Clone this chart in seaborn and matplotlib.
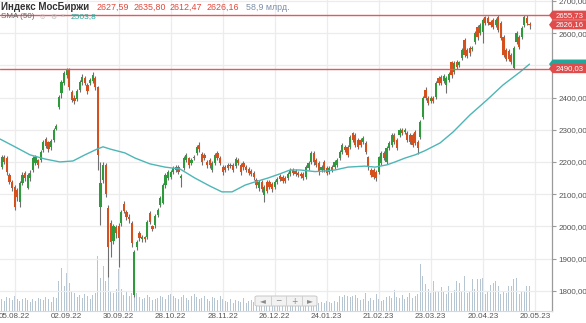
import numpy as np
import pandas as pd
import matplotlib
matplotlib.use("Agg")
import matplotlib.pyplot as plt
import seaborn as sns
from matplotlib.patches import Polygon, FancyBboxPatch, Rectangle
from matplotlib.transforms import IdentityTransform

sns.set_theme(style="white")
plt.rcParams["font.family"] = ["Liberation Sans", "DejaVu Sans"]

# ---------------- data ----------------
open_ = [2184, 2215, 2212, 2160, 2138, 2122, 2113, 2076, 2135, 2165, 2120, 2150, 2175, 2197, 2205, 2206, 2237, 2271, 2262, 2245,
         2268, 2303, 2371, 2414, 2445, 2470, 2490, 2417, 2400, 2395, 2424, 2449, 2460, 2440, 2445, 2450, 2460, 2433, 2060, 2144,
         2190, 2057, 2010, 1955, 1998, 2000, 2010, 2070, 2045, 2030, 2010, 1787, 1936, 1979, 1960, 1966, 1967, 2042, 2000, 2003,
         2036, 2067, 2073, 2128, 2150, 2153, 2169, 2184, 2184, 2150, 2181, 2206, 2212, 2197, 2216, 2228, 2253, 2225, 2222, 2200,
         2206, 2175, 2197, 2228, 2212, 2184, 2184, 2190, 2187, 2190, 2187, 2206, 2190, 2197, 2184, 2178, 2172, 2166, 2144, 2119,
         2138, 2097, 2138, 2138, 2131, 2122, 2138, 2157, 2153, 2150, 2150, 2163, 2175, 2172, 2166, 2163, 2162, 2154, 2181, 2200,
         2228, 2206, 2197, 2175, 2200, 2181, 2169, 2184, 2184, 2191, 2212, 2231, 2247, 2247, 2247, 2290, 2284, 2268, 2268, 2262,
         2259, 2215, 2175, 2175, 2169, 2169, 2197, 2228, 2200, 2243, 2253, 2284, 2268, 2284, 2300, 2293, 2290, 2284, 2284, 2293,
         2262, 2278, 2340, 2424, 2399, 2390, 2399, 2402, 2461, 2464, 2452, 2440, 2455, 2510, 2480, 2510, 2500, 2523, 2579, 2548,
         2554, 2550, 2573, 2619, 2600, 2603, 2650, 2647, 2635, 2641, 2625, 2650, 2631, 2588, 2548, 2545, 2532, 2492, 2573, 2588,
         2588, 2625, 2647, 2627.59]
close = [2215, 2200, 2169, 2138, 2119, 2060, 2091, 2135, 2160, 2150, 2160, 2166, 2212, 2215, 2190, 2231, 2262, 2250, 2240, 2265,
         2300, 2312, 2402, 2449, 2477, 2490, 2433, 2393, 2390, 2420, 2449, 2465, 2445, 2420, 2455, 2470, 2433, 2222, 2135, 2190,
         2100, 1936, 1950, 2000, 1980, 1965, 2045, 2048, 2030, 2022, 1948, 1920, 1951, 1964, 1966, 1960, 2014, 2014, 1993, 2032,
         2051, 2088, 2128, 2160, 2170, 2169, 2181, 2175, 2170, 2157, 2212, 2222, 2190, 2206, 2212, 2247, 2240, 2200, 2212, 2190,
         2190, 2197, 2222, 2212, 2197, 2169, 2175, 2181, 2190, 2175, 2209, 2197, 2169, 2184, 2175, 2166, 2163, 2153, 2129, 2138,
         2116, 2122, 2110, 2122, 2116, 2138, 2147, 2147, 2141, 2141, 2163, 2175, 2166, 2163, 2160, 2157, 2150, 2185, 2197, 2228,
         2200, 2191, 2170, 2184, 2175, 2166, 2181, 2175, 2200, 2206, 2231, 2253, 2237, 2222, 2278, 2268, 2253, 2247, 2253, 2274,
         2231, 2184, 2160, 2153, 2150, 2215, 2228, 2212, 2243, 2259, 2284, 2262, 2243, 2300, 2290, 2300, 2268, 2262, 2253, 2259,
         2243, 2325, 2399, 2399, 2383, 2399, 2390, 2445, 2445, 2445, 2467, 2460, 2473, 2470, 2507, 2495, 2510, 2548, 2532, 2530,
         2538, 2554, 2600, 2588, 2625, 2641, 2631, 2631, 2625, 2619, 2641, 2610, 2585, 2532, 2520, 2520, 2510, 2554, 2600, 2557,
         2616, 2650, 2631, 2626.16]
high = [2222, 2222, 2218, 2166, 2145, 2128, 2118, 2140, 2168, 2172, 2165, 2175, 2218, 2222, 2210, 2237, 2268, 2278, 2266, 2270,
        2306, 2318, 2408, 2455, 2482, 2492, 2493, 2422, 2408, 2426, 2455, 2472, 2466, 2446, 2462, 2480, 2466, 2436, 2200, 2200,
        2197, 2065, 2020, 2008, 2005, 2010, 2050, 2080, 2052, 2038, 2015, 1925, 1958, 1985, 1972, 1970, 2020, 2048, 2005, 2038,
        2058, 2094, 2134, 2166, 2176, 2175, 2186, 2190, 2190, 2162, 2218, 2228, 2216, 2212, 2222, 2253, 2262, 2230, 2228, 2206,
        2212, 2203, 2228, 2234, 2218, 2190, 2190, 2196, 2196, 2196, 2215, 2212, 2196, 2203, 2190, 2184, 2178, 2172, 2150, 2144,
        2144, 2128, 2144, 2144, 2137, 2144, 2153, 2162, 2158, 2156, 2168, 2181, 2180, 2178, 2172, 2168, 2168, 2190, 2203, 2234,
        2234, 2212, 2203, 2190, 2206, 2187, 2187, 2190, 2206, 2212, 2237, 2260, 2253, 2253, 2284, 2294, 2290, 2274, 2274, 2280,
        2265, 2220, 2181, 2181, 2175, 2220, 2234, 2234, 2249, 2265, 2290, 2290, 2274, 2306, 2306, 2306, 2296, 2290, 2290, 2298,
        2268, 2330, 2405, 2433, 2405, 2405, 2405, 2450, 2467, 2470, 2473, 2466, 2479, 2515, 2512, 2516, 2515, 2553, 2585, 2554,
        2560, 2560, 2606, 2625, 2631, 2647, 2652, 2653, 2641, 2647, 2647, 2655, 2637, 2594, 2554, 2551, 2538, 2560, 2606, 2594,
        2622, 2655, 2655.73, 2635.80]
low = [2178, 2195, 2160, 2130, 2110, 2052, 2080, 2060, 2128, 2140, 2115, 2140, 2170, 2190, 2180, 2200, 2230, 2244, 2232, 2238,
       2262, 2298, 2365, 2400, 2438, 2462, 2425, 2385, 2380, 2388, 2418, 2440, 2438, 2410, 2438, 2445, 2425, 2175, 2004, 2135,
       2090, 1843, 1905, 1945, 1965, 1874, 2000, 2040, 2020, 2010, 1935, 1780, 1925, 1955, 1950, 1950, 1960, 2008, 1985, 1995,
       2028, 2060, 2068, 2120, 2144, 2148, 2162, 2168, 2162, 2122, 2175, 2200, 2182, 2190, 2205, 2222, 2232, 2192, 2205, 2182,
       2182, 2168, 2190, 2205, 2190, 2160, 2168, 2174, 2180, 2168, 2180, 2190, 2160, 2176, 2168, 2158, 2155, 2145, 2120, 2110,
       2108, 2075, 2102, 2115, 2108, 2115, 2132, 2140, 2134, 2134, 2144, 2156, 2160, 2156, 2153, 2150, 2144, 2148, 2175, 2194,
       2192, 2184, 2160, 2168, 2168, 2158, 2162, 2168, 2178, 2185, 2206, 2225, 2230, 2215, 2240, 2262, 2246, 2240, 2246, 2256,
       2224, 2176, 2152, 2146, 2140, 2162, 2190, 2205, 2195, 2236, 2246, 2255, 2236, 2278, 2284, 2287, 2262, 2255, 2246, 2252,
       2225, 2272, 2334, 2392, 2376, 2384, 2384, 2396, 2438, 2438, 2446, 2415, 2448, 2462, 2474, 2488, 2494, 2517, 2525, 2522,
       2530, 2544, 2567, 2580, 2594, 2570, 2624, 2624, 2618, 2612, 2618, 2603, 2578, 2525, 2513, 2513, 2503, 2490.03, 2567, 2550,
       2582, 2619, 2624, 2612.47]
volume = [28, 24, 33, 31, 26, 35, 28, 24, 28, 31, 26, 21, 28, 24, 31, 28, 26, 33, 28, 21,
          33, 31, 71, 101, 59, 90, 66, 47, 42, 33, 38, 31, 40, 35, 28, 38, 42, 130, 78, 106,
          71, 85, 47, 42, 52, 99, 52, 38, 47, 35, 42, 66, 42, 33, 28, 31, 38, 33, 26, 28,
          31, 35, 33, 28, 38, 40, 35, 31, 28, 33, 38, 31, 26, 35, 40, 33, 28, 31, 35, 28,
          24, 33, 31, 26, 35, 28, 24, 21, 28, 19, 26, 24, 21, 31, 19, 24, 26, 21, 28, 19,
          24, 21, 26, 31, 24, 19, 21, 26, 24, 28, 21, 19, 24, 26, 21, 28, 24, 19, 21, 26,
          24, 21, 19, 21, 19, 24, 21, 19, 24, 21, 35, 33, 38, 35, 33, 35, 38, 31, 26, 28,
          42, 24, 31, 26, 40, 28, 24, 26, 33, 35, 31, 50, 33, 31, 38, 28, 33, 42, 31, 35,
          40, 111, 83, 64, 52, 42, 71, 47, 45, 57, 47, 40, 59, 42, 50, 71, 66, 47, 83, 42,
          47, 76, 52, 76, 76, 78, 40, 45, 61, 66, 71, 59, 40, 47, 42, 59, 59, 76, 78, 40,
          47, 45, 59, 58.9]
sma_pos = [-0.6, 5.1, 10.9, 16.7, 22.4, 27.4, 32.0, 36.7, 39.0, 41.7, 47.4, 51.3, 57.0, 62.8, 68.6, 74.3, 80.1,
           84.7, 88.6, 93.6, 97.4, 102.4, 107.0, 110.9, 114.7, 120.5, 124.3, 128.2, 133.2, 139.7, 143.6, 148.2,
           151.3, 155.1, 159.0, 162.8, 168.6, 173.6, 180.1, 186.7, 192.8, 199.3, 203.0]
sma_val = [2271, 2247, 2222, 2209, 2200, 2203, 2222, 2240, 2247, 2240, 2228, 2212, 2194, 2184, 2178, 2150, 2125,
           2107, 2107, 2128, 2138, 2150, 2163, 2175, 2175, 2170, 2172, 2175, 2184, 2187, 2184, 2191,
           2200, 2212, 2222, 2235, 2259, 2293, 2346, 2393, 2439, 2479, 2503.8]
tick_pos = [5, 25, 45, 65, 85, 105, 125, 145, 165, 185, 205]
tick_labels = ["05.08.22", "02.09.22", "30.09.22", "28.10.22", "28.11.22", "26.12.22",
               "24.01.23", "21.02.23", "23.03.23", "20.04.23", "20.05.23"]
price_ticks = [1800, 1900, 2000, 2100, 2200, 2300, 2400, 2500, 2600, 2700]
hidden_ticks = [2500]   # label covered by the value boxes in the reference
levels = [2655.73, 2490.03]
header_vals = ["2627,59", "2635,80", "2612,47", "2626,16"]
header_vol = "58,9 млрд."
sma_last = 2503.8
last_close = 2626.16

# ---------------- figure ----------------
W, H = 586, 323
fig = plt.figure(figsize=(W / 100, H / 100), dpi=100)
ax = fig.add_axes([0, 12 / H, 552 / W, 311 / H])
axv = ax.twinx()
ax.set_zorder(2)
axv.set_zorder(1)
ax.patch.set_visible(False)

df = pd.DataFrame({"o": open_, "h": high, "l": low, "c": close, "v": volume})
df["i"] = np.arange(len(df))
up = df[df.c >= df.o]
dn = df[df.c < df.o]

GREEN, RED, WICK = "#2f9a3c", "#d6501e", "#6f6f6f"

# volume
axv.bar(df.i, df.v, width=0.45, color="#b6c5d2", linewidth=0)
axv.set_ylim(0, 734)
axv.set_yticks([])
for s in axv.spines.values():
    s.set_visible(False)

# grid
ax.set_xlim(-0.65, 211.65)
ax.set_ylim(1737, 2703)
for p in price_ticks:
    ax.axhline(p, color="#ececec", lw=0.9, zorder=0)
for t in tick_pos:
    ax.axvline(t, color="#ececec", lw=0.9, zorder=0)

# candles
ax.vlines(df.i, df.l, df.h, color=WICK, lw=0.8, zorder=2)
ax.bar(up.i, up.c - up.o, bottom=up.o, width=0.78, color=GREEN, linewidth=0, zorder=3)
ax.bar(dn.i, dn.o - dn.c, bottom=dn.c, width=0.78, color=RED, linewidth=0, zorder=3)

# SMA
sns.lineplot(x=sma_pos, y=sma_val, ax=ax, color="#4db6b6", lw=1.0, zorder=4, legend=False)

# levels
for lv in levels:
    ax.axhline(lv, color="#e25a5c", lw=1.0, zorder=5)

# axes styling
ax.set_xticks(tick_pos)
ax.set_xticklabels(tick_labels)
ax.set_yticks(price_ticks)
ax.set_yticklabels(["" if p in hidden_ticks else f"{p:.2f}".replace(".", ",") for p in price_ticks])
ax.yaxis.tick_right()
ax.tick_params(axis="y", right=True, length=3, width=0.8, color="#9a9a9a", pad=1.5,
               labelsize=5.8, labelcolor="#555555")
ax.tick_params(axis="x", bottom=False, length=0, pad=1.5, labelsize=5.8, labelcolor="#555555")
for side in ["top", "left"]:
    ax.spines[side].set_visible(False)
ax.spines["right"].set_color("#9a9a9a")
ax.spines["right"].set_linewidth(0.9)
ax.spines["bottom"].set_color("#d8d8d8")
ax.spines["bottom"].set_linewidth(0.8)
ax.set_xlabel("")
ax.set_ylabel("")

# right-side value boxes (pixel coordinates)
fig.canvas.draw()
def value_box(v, color, text=None, txtcolor="white"):
    _, yd = ax.transData.transform((0, v))
    hh = 4.6
    poly = Polygon([[549, yd], [552.5, yd + hh], [586, yd + hh], [586, yd - hh], [552.5, yd - hh]],
                   closed=True, facecolor=color, edgecolor="none", transform=IdentityTransform(), zorder=10)
    fig.add_artist(poly)
    if text:
        fig.text(569.5 / W, yd / H, text, color=txtcolor, fontsize=5.6, ha="center", va="center", zorder=11)

# the SMA box sits behind the 2490,03 box and its text is covered there
value_box(sma_last, "#26a69a")
value_box(levels[1], "#e04b4b", f"{levels[1]:.2f}".replace(".", ","))
value_box(levels[0], "#e04b4b", f"{levels[0]:.2f}".replace(".", ","))
value_box(last_close, "#e04b4b", f"{last_close:.2f}".replace(".", ","))

# header
def ftext(x, y, s, **kw):
    fig.text(x / W, 1 - y / H, s, va="center", ha="left", **kw)

ftext(1, 7, "Индекс МосБиржи", fontsize=7, fontweight="bold", color="#333333")
for xp, s in zip([97, 133.5, 170, 206.5], header_vals):
    ftext(xp, 7, s, fontsize=6.4, color="#e0473a")
ftext(246, 7, header_vol, fontsize=6.4, color="#7d8fa8")
ftext(1, 16.5, "SMA (50)", fontsize=5.8, color="#666666")
ftext(40, 16.5, "◎", fontsize=4.5, color="#bbbbbb")
ftext(50, 16.5, "⚙", fontsize=5, color="#bbbbbb", family="DejaVu Sans")
ftext(61, 16.5, "×", fontsize=5, color="#bbbbbb")
ftext(71, 16.5, f"{sma_last:.1f}".replace(".", ","), fontsize=6.0, color="#2aa39b")

# navigation buttons
nav = FancyBboxPatch((255 / W, 1 - 306 / H), 62 / W, 10 / H, boxstyle="round,pad=0,rounding_size=0.004",
                     transform=fig.transFigure, facecolor="#f2f2f2", edgecolor="#c8c8c8", lw=0.7, zorder=12)
fig.add_artist(nav)
for k, (xc, sym) in enumerate(zip([263, 278.5, 294, 309.5], ["◄", "−", "+", "►"])):
    if k > 0:
        fig.add_artist(Rectangle(((xc - 7.7) / W, 1 - 306 / H), 0.7 / W, 10 / H, transform=fig.transFigure,
                                 facecolor="#d0d0d0", edgecolor="none", zorder=13))
    fig.text(xc / W, 1 - 301 / H, sym, fontsize=5.5, color="#8a8a8a", ha="center", va="center",
             zorder=14, family="DejaVu Sans")

fig.savefig("out.png", dpi=100)
